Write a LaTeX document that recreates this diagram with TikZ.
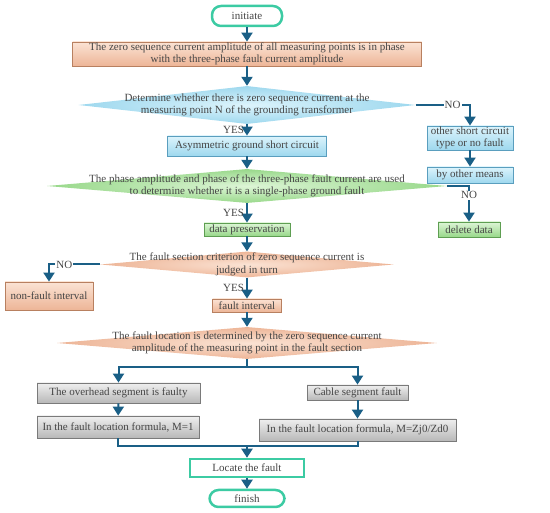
\documentclass[tikz,border=0pt]{standalone}
\usepackage{fontspec}
\setmainfont{Liberation Serif}
\usetikzlibrary{arrows.meta,shapes.geometric,shadows}
\definecolor{arrc}{HTML}{1A5F86}
\definecolor{txtc}{HTML}{454545}
\definecolor{salF}{HTML}{EDB597}
\definecolor{salL}{HTML}{FBE3D4}
\definecolor{salD}{HTML}{B88060}
\definecolor{bluF}{HTML}{9ED8EE}
\definecolor{bluL}{HTML}{DDF4FC}
\definecolor{bluD}{HTML}{5A9EBE}
\definecolor{grnF}{HTML}{98D88A}
\definecolor{grnL}{HTML}{DDF5D6}
\definecolor{grnD}{HTML}{5E9E52}
\definecolor{gryF}{HTML}{B8B8B8}
\definecolor{gryL}{HTML}{EFEFEF}
\definecolor{gryD}{HTML}{7A7A7A}
\definecolor{tealc}{HTML}{3CCBA3}
\tikzset{
  txt/.style={font=\fontsize{11}{12.5}\selectfont, text=txtc, align=center, inner sep=0pt},
  boxbase/.style={line width=0.8pt, txt, drop shadow={shadow xshift=0.9pt, shadow yshift=-0.9pt, fill=black!70}},
  salbox/.style={boxbase, draw=salD, top color=salL, bottom color=salF},
  blubox/.style={boxbase, draw=bluD, top color=bluL, bottom color=bluF},
  grnbox/.style={boxbase, draw=grnD, top color=grnL, bottom color=grnF},
  grybox/.style={boxbase, draw=gryD, top color=gryL, bottom color=gryF},
  dia/.style={diamond, inner sep=0pt, draw=none, aspect=10},
  saldia/.style={dia, inner color=salL, outer color=salF},
  bludia/.style={dia, inner color=bluL, outer color=bluF},
  grndia/.style={dia, inner color=grnL, outer color=grnF},
  pill/.style={txt, rounded corners=9pt, draw=tealc, line width=2.5pt, fill=white},
  tealbox/.style={txt, draw=tealc, line width=2.5pt, fill=white},
  arr/.style={draw=arrc, line width=2pt, -{Triangle[width=11pt,length=9pt]}},
  ln/.style={draw=arrc, line width=2pt},
  lab/.style={txt, fill=white, inner sep=1pt},
  yes/.style={txt, left, inner sep=2pt}
}
\begin{document}
\begin{tikzpicture}[x=1pt,y=1pt]
\useasboundingbox (0,0) rectangle (550,513);
% nodes
\node[pill, minimum width=70pt, minimum height=20pt] (init) at (247,497) {initiate};
\node[salbox, minimum width=349pt, minimum height=24pt] (b1) at (247,459)
  {The zero sequence current amplitude of all measuring points is in phase\\with the three-phase fault current amplitude};
\node[bludia, minimum width=337pt, minimum height=38pt] (d1) at (247,408) {};
\node[txt] (d1t) at (d1) {Determine whether there is zero sequence current at the\\measuring point N of the grounding transformer};
\node[blubox, minimum width=86pt, minimum height=24pt] (other) at (470,375) {other short circuit\\type or no fault};
\node[blubox, minimum width=159pt, minimum height=20pt] (b2) at (247,367) {Asymmetric ground short circuit};
\node[grndia, minimum width=400pt, minimum height=34pt] (d2) at (247,327) {};
\node[txt] (d2t) at (d2) {The phase amplitude and phase of the three-phase fault current are used\\to determine whether it is a single-phase ground fault};
\node[blubox, minimum width=86pt, minimum height=16pt] (means) at (470,338) {by other means};
\node[grnbox, minimum width=62pt, minimum height=15pt] (del) at (469,283.5) {delete data};
\node[grnbox, minimum width=86pt, minimum height=13pt] (dp) at (247,283.5) {data preservation};
\node[saldia, minimum width=293pt, minimum height=26pt] (d3) at (247,248.5) {};
\node[txt] (d3t) at (d3) {The fault section criterion of zero sequence current is\\judged in turn};
\node[salbox, minimum width=88pt, minimum height=28pt] (nf) at (49,217) {non-fault interval};
\node[salbox, minimum width=69pt, minimum height=13pt] (fi) at (247,207.5) {fault interval};
\node[saldia, minimum width=380pt, minimum height=32pt] (d4) at (247,170) {};
\node[txt] (d4t) at (d4) {The fault location is determined by the zero sequence current\\amplitude of the measuring point in the fault section};
\node[grybox, minimum width=163pt, minimum height=20pt] (oh) at (118.5,120) {The overhead segment is faulty};
\node[grybox, minimum width=101pt, minimum height=15pt] (cb) at (357.5,120.5) {Cable segment fault};
\node[grybox, minimum width=162pt, minimum height=22pt] (m1) at (118,86) {In the fault location formula, M=1};
\node[grybox, minimum width=197pt, minimum height=22pt] (m2) at (357.5,83) {In the fault location formula, M=Zj0/Zd0};
\node[tealbox, minimum width=114pt, minimum height=18pt] (loc) at (247,45) {Locate the fault};
\node[pill, minimum width=75pt, minimum height=17pt] (fin) at (247,14.5) {finish};
\coordinate (sp) at (247,146);
\coordinate (mg) at (247,67);
% connectors
\draw[arr] (init) -- (b1);
\draw[arr] (b1) -- (d1);
\draw[arr] (d1.east) -| node[lab, pos=0.34] {NO} (other.north);
\draw[arr] (d1.south) -- node[yes] {YES} (b2.north);
\draw[arr] (other) -- (means);
\draw[arr] (b2) -- (d2);
\draw[arr] (d2.east) -| node[lab, pos=0.63] {NO} (del.north);
\draw[arr] (d2.south) -- node[yes] {YES} (dp.north);
\draw[arr] (dp) -- (d3);
\draw[arr] (d3.west) -| node[lab, pos=0.35] {NO} (nf.north);
\draw[arr] (d3.south) -- node[yes] {YES} (fi.north);
\draw[arr] (fi) -- (d4);
\draw[ln] (d4.south) -- (sp);
\draw[arr] (sp) -| (oh.north);
\draw[arr] (sp) -| (cb.north);
\draw[arr] (oh) -- (m1);
\draw[arr] (cb) -- (m2);
\draw[ln] (m1.south) |- (mg);
\draw[ln] (m2.south) |- (mg);
\draw[arr] (mg) -- (loc.north);
\draw[arr] (loc) -- (fin);
\end{tikzpicture}
\end{document}
